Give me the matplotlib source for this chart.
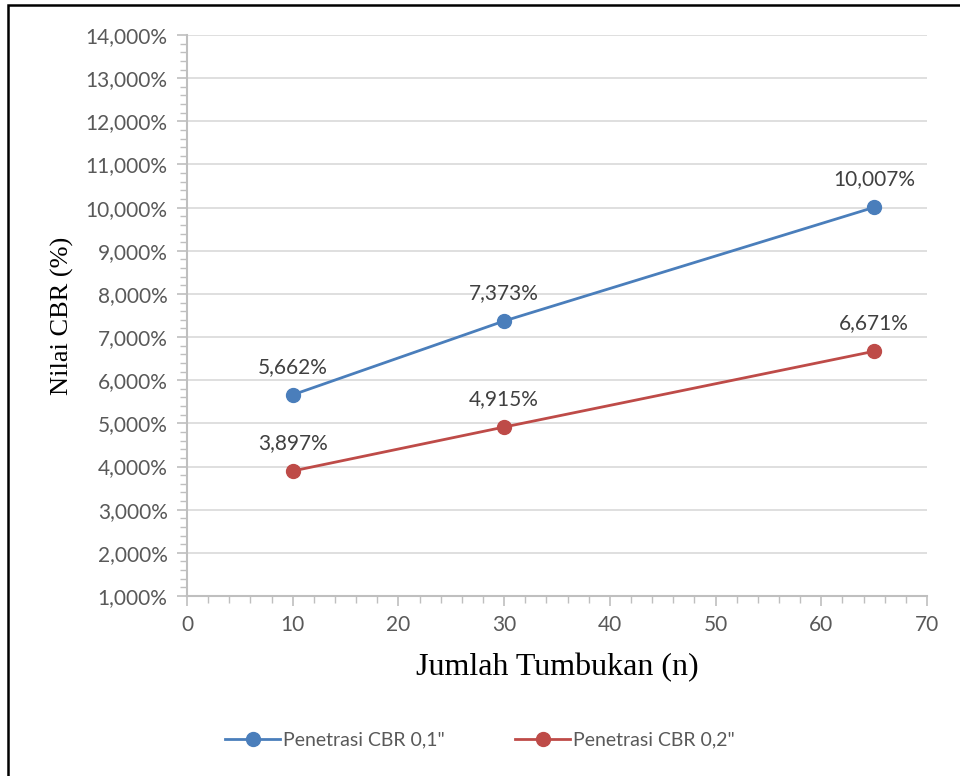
import matplotlib
matplotlib.use("Agg")
import matplotlib.pyplot as plt
from matplotlib.ticker import MultipleLocator, FuncFormatter
from matplotlib.patches import Rectangle

# Data: number of blows vs CBR value (%)
blows = [10, 30, 65]
cbr_01 = [5.662, 7.373, 10.007]
cbr_02 = [3.897, 4.915, 6.671]
series_names = ['Penetrasi CBR 0,1"', 'Penetrasi CBR 0,2"']
colors = ["#4A7EBB", "#BE4B48"]

tick_font = "Lato"
label_font = "Liberation Serif"
gray = "#595959"

fig = plt.figure(figsize=(9.6, 7.76), dpi=100)
ax = fig.add_axes([187 / 960, 1 - 596 / 776, 740 / 960, 561 / 776])

for vals, name, col in zip([cbr_01, cbr_02], series_names, colors):
    ax.plot(blows, vals, color=col, lw=2.0, marker="o", markersize=10,
            label=name, zorder=3, clip_on=False)
    for x, y in zip(blows, vals):
        ax.annotate(f"{y:.3f}%".replace(".", ","), (x, y), xytext=(0, 20),
                    textcoords="offset points", ha="center", va="center",
                    fontsize=15, color="#404040", family=tick_font)

ax.set_xlim(0, 70)
ax.set_ylim(1, 14)
ax.xaxis.set_major_locator(MultipleLocator(10))
ax.xaxis.set_minor_locator(MultipleLocator(2))
ax.yaxis.set_major_locator(MultipleLocator(1))
ax.yaxis.set_minor_locator(MultipleLocator(0.2))
ax.yaxis.set_major_formatter(FuncFormatter(lambda v, p: f"{v:,.3f}%".replace(".", ",")))

ax.grid(axis="y", which="major", color="#D9D9D9", lw=1.2, zorder=0)
for s in ["top", "right"]:
    ax.spines[s].set_visible(False)
for s in ["left", "bottom"]:
    ax.spines[s].set_color("#BFBFBF")
    ax.spines[s].set_linewidth(1.5)

ax.tick_params(axis="both", which="major", length=7, width=1.2, color="#BFBFBF",
               labelsize=15, labelcolor=gray, pad=7)
ax.tick_params(axis="both", which="minor", length=5, width=1.0, color="#BFBFBF")
for lab in ax.get_xticklabels() + ax.get_yticklabels():
    lab.set_family(tick_font)

ax.set_xlabel("Jumlah Tumbukan (n)", family=label_font, fontsize=23)
ax.xaxis.set_label_coords(0.5, 1 - (668 - 35) / 561, transform=ax.transAxes)
ax.xaxis.label.set_va("center")
ax.set_ylabel("Nilai CBR (%)", family=label_font, fontsize=19)
ax.yaxis.set_label_coords((62 - 187) / 740, 0.5)
ax.yaxis.label.set_va("center")

leg = fig.legend(loc="center", bbox_to_anchor=(0.5, 1 - 740 / 776), ncol=2,
                 frameon=False, prop={"family": tick_font, "size": 14},
                 handlelength=2.85, handletextpad=0.15, columnspacing=3.6)
for t in leg.get_texts():
    t.set_color(gray)

# Outer frame around the chart
fig.patches.append(Rectangle((8 / 960, -0.05), 1.2, 1 - 5 / 776 + 0.05,
                             transform=fig.transFigure, fill=False,
                             edgecolor="black", lw=1.8))

fig.savefig("out.png", dpi=100)
